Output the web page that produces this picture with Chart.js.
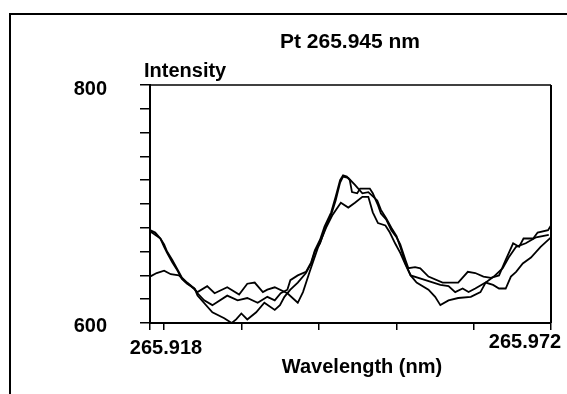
<!DOCTYPE html>
<html>
<head>
<meta charset="utf-8">
<script src="https://cdn.jsdelivr.net/npm/chart.js@4.4.1/dist/chart.umd.min.js"></script>
<style>
  html, body { margin: 0; padding: 0; background: #fff; }
  #wrap { width: 567px; height: 394px; position: relative; }
</style>
</head>
<body>
<div id="wrap"><canvas id="plot"></canvas></div>
<script>
// Pt 265.945 nm line, three repeat scans (wavelength in nm, intensity in counts)
const wavelengthA = [265.9180, 265.9187, 265.9194, 265.9199, 265.9203, 265.9210, 265.9217, 265.9223, 265.9230, 265.9240,
  265.9244, 265.9253, 265.9264, 265.9284, 265.9298, 265.9311, 265.9325, 265.9338, 265.9348, 265.9356,
  265.9365, 265.9369, 265.9379, 265.9390, 265.9397, 265.9402, 265.9409, 265.9415, 265.9424, 265.9430,
  265.9436, 265.9440, 265.9445, 265.9449, 265.9452, 265.9459, 265.9463, 265.9476, 265.9480, 265.9487,
  265.9491, 265.9498, 265.9505, 265.9512, 265.9517, 265.9524, 265.9528, 265.9537, 265.9544, 265.9555,
  265.9574, 265.9595, 265.9608, 265.9618, 265.9629, 265.9639, 265.9650, 265.9659, 265.9669, 265.9677,
  265.9683, 265.9696, 265.9702, 265.9716, 265.9720];
const intensityA = [678, 676, 671, 666, 660, 653, 645, 638, 634, 629,
  625, 619, 615, 623, 619, 621, 617, 622, 619, 625,
  628, 636, 640, 643, 651, 661, 670, 681, 693, 706,
  720, 724, 723, 720, 710, 709, 713, 713, 709, 699,
  692, 687, 678, 672, 666, 653, 646, 647, 646, 639,
  634, 634, 643, 642, 639, 638, 640, 653, 667, 664,
  671, 671, 676, 678, 682];

const wavelengthB = [265.9180, 265.9185, 265.9194, 265.9199, 265.9203, 265.9210, 265.9217, 265.9223, 265.9230, 265.9240,
  265.9244, 265.9264, 265.9280, 265.9290, 265.9296, 265.9303, 265.9311, 265.9323, 265.9334, 265.9348,
  265.9355, 265.9361, 265.9369, 265.9379, 265.9390, 265.9397, 265.9402, 265.9409, 265.9415, 265.9424,
  265.9430, 265.9436, 265.9440, 265.9447, 265.9456, 265.9466, 265.9474, 265.9486, 265.9491, 265.9498,
  265.9505, 265.9512, 265.9517, 265.9524, 265.9531, 265.9551, 265.9571, 265.9582, 265.9591, 265.9601,
  265.9609, 265.9618, 265.9632, 265.9642, 265.9650, 265.9659, 265.9666, 265.9673, 265.9682, 265.9693,
  265.9706, 265.9720];
const intensityB = [677, 675, 671, 664, 659, 651, 644, 637, 633, 629,
  623, 609, 604, 600, 603, 608, 603, 609, 617, 611,
  615, 622, 628, 634, 642, 650, 660, 667, 678, 691,
  703, 718, 723, 722, 716, 709, 710, 703, 695, 688,
  680, 673, 664, 650, 640, 636, 632, 631, 626, 629,
  626, 629, 634, 632, 629, 629, 639, 643, 650, 655,
  664, 672];

const wavelengthC = [265.9180, 265.9189, 265.9199, 265.9208, 265.9219, 265.9227, 265.9235, 265.9244, 265.9257, 265.9267,
  265.9284, 265.9300, 265.9311, 265.9321, 265.9332, 265.9338, 265.9348, 265.9365, 265.9379, 265.9386,
  265.9395, 265.9406, 265.9417, 265.9426, 265.9437, 265.9447, 265.9456, 265.9466, 265.9474, 265.9480,
  265.9487, 265.9497, 265.9503, 265.9510, 265.9517, 265.9524, 265.9531, 265.9539, 265.9555, 265.9564,
  265.9571, 265.9582, 265.9595, 265.9612, 265.9625, 265.9632, 265.9643, 265.9655, 265.9663, 265.9673,
  265.9686, 265.9700, 265.9717];
const intensityC = [639, 642, 644, 641, 640, 635, 631, 626, 631, 625,
  630, 624, 633, 634, 626, 628, 630, 625, 617, 626,
  643, 663, 680, 691, 701, 697, 701, 706, 706, 693,
  684, 682, 676, 667, 659, 649, 640, 634, 628, 622,
  615, 619, 621, 622, 626, 634, 639, 646, 655, 664,
  667, 672, 674];

// axis range and tick marks
const wlMin = 265.918;
const wlMax = 265.972;
const wlTicks = [265.918, 265.9199, 265.9303, 265.9407, 265.9512, 265.9616, 265.972];
const intMin = 600;
const intMax = 800;
const intStep = 20;

const titleText = 'Pt 265.945 nm';
const yTitle = 'Intensity';
const xTitle = 'Wavelength (nm)';

function toPoints(xs, ys) {
  return xs.map(function(x, i) {
    return { x: x, y: ys[i] };
  });
}

function createDataset(label, xs, ys) {
  return {
    label,
    data: toPoints(xs, ys),
    borderColor: '#000',
    borderWidth: 1.8,
    pointRadius: 0,
    tension: 0,
    fill: false,
  };
}

const FONT = 'bold 20px "Liberation Sans", Arial, sans-serif';

// frame, plot box and all the text
const decorPlugin = {
  id: 'decor',
  beforeDraw: (chart) => {
    const ctx = chart.ctx;
    ctx.save();
    ctx.fillStyle = '#fff';
    ctx.fillRect(0, 0, chart.width, chart.height);
    ctx.restore();
  },
  afterDraw: (chart) => {
    const ctx = chart.ctx;
    const area = chart.chartArea;
    const xs = chart.scales.x;
    const ys = chart.scales.y;
    ctx.save();
    ctx.strokeStyle = '#000';

    // outer border
    ctx.lineWidth = 2;
    ctx.beginPath();
    ctx.moveTo(10, chart.height);
    ctx.lineTo(10, 14);
    ctx.lineTo(chart.width, 14);
    ctx.stroke();

    // top and right of the plot box
    ctx.lineWidth = 1.5;
    ctx.beginPath();
    ctx.moveTo(area.left, area.top);
    ctx.lineTo(area.right, area.top);
    ctx.stroke();
    ctx.lineWidth = 2;
    ctx.beginPath();
    ctx.moveTo(area.right, area.top);
    ctx.lineTo(area.right, area.bottom);
    ctx.stroke();

    ctx.fillStyle = '#000';
    ctx.font = 'bold 21px "Liberation Sans", Arial, sans-serif';
    ctx.textAlign = 'center';
    ctx.textBaseline = 'alphabetic';
    ctx.fillText(titleText, 350, 48);

    ctx.font = FONT;
    ctx.textAlign = 'left';
    ctx.fillText(yTitle, 144, 77);

    ctx.textAlign = 'right';
    ctx.textBaseline = 'middle';
    ctx.fillText(String(intMax), 107, ys.getPixelForValue(intMax) + 4);
    ctx.fillText(String(intMin), 107, ys.getPixelForValue(intMin) + 3);

    ctx.textAlign = 'center';
    ctx.fillText(wlMin.toFixed(3), xs.getPixelForValue(wlMin) + 16, area.bottom + 25);
    ctx.fillText(wlMax.toFixed(3), xs.getPixelForValue(wlMax) - 26, area.bottom + 19);
    ctx.fillText(xTitle, 362, area.bottom + 44);
    ctx.restore();
  }
};

const canvas = document.getElementById('plot');
const chart = new Chart(canvas.getContext('2d'), {
  type: 'line',
  plugins: [decorPlugin],
  data: {
    datasets: [
      createDataset('Scan 1', wavelengthA, intensityA),
      createDataset('Scan 2', wavelengthB, intensityB),
      createDataset('Scan 3', wavelengthC, intensityC),
    ],
  },
  options: {
    responsive: true,
    maintainAspectRatio: false,
    devicePixelRatio: 1,
    animation: false,
    layout: {
      padding: { left: 140, right: 16, top: 85, bottom: 64 }
    },
    plugins: {
      legend: { display: false },
      tooltip: { enabled: false },
      title: { display: false },
    },
    scales: {
      x: {
        type: 'linear',
        min: wlMin,
        max: wlMax,
        afterBuildTicks: (axis) => {
          axis.ticks = wlTicks.map(function(v) { return { value: v }; });
        },
        ticks: { display: false },
        grid: {
          drawOnChartArea: false,
          drawTicks: true,
          tickLength: 7,
          color: '#000',
          lineWidth: 1.5,
        },
        border: { display: true, color: '#000', width: 2 },
      },
      y: {
        type: 'linear',
        min: intMin,
        max: intMax,
        ticks: { display: false, stepSize: intStep },
        grid: {
          drawOnChartArea: false,
          drawTicks: true,
          tickLength: 10,
          color: '#000',
          lineWidth: 1.5,
        },
        border: { display: true, color: '#000', width: 2 },
      }
    }
  }
});
</script>
</body>
</html>
